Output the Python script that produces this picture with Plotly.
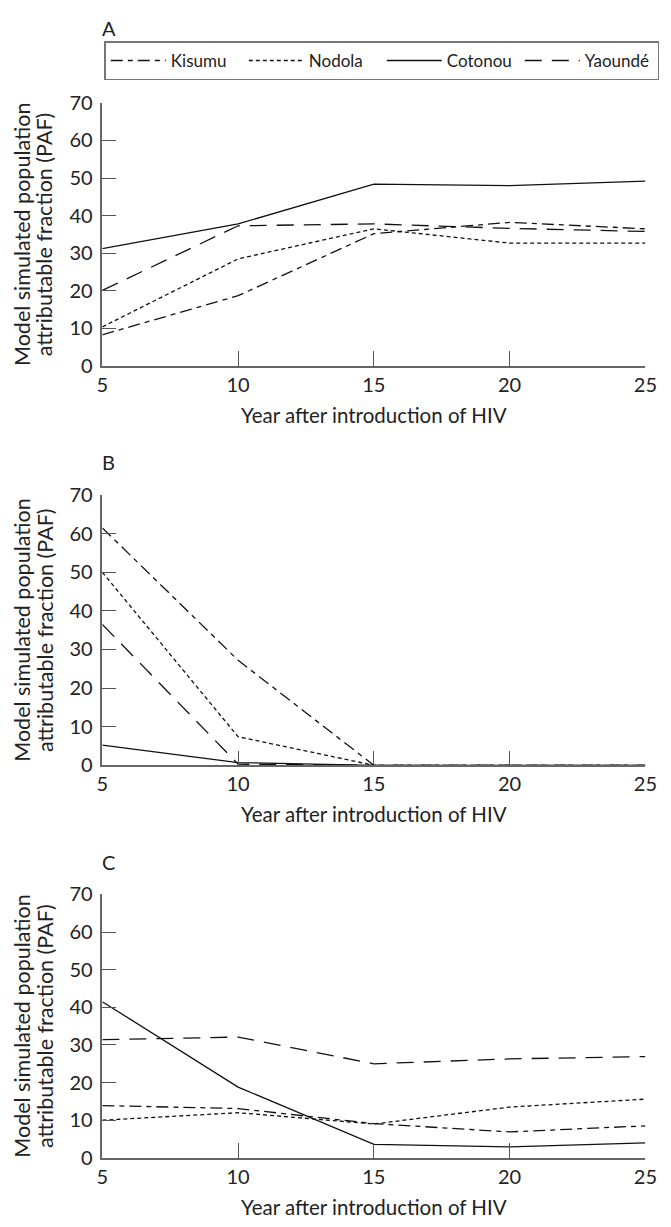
import plotly.graph_objects as go

years = [5, 10, 15, 20, 25]
cities = ["Kisumu", "Nodola", "Cotonou", "Yaoundé"]

# Panel A
kisumu_a = [8.3, 18.7, 35.2, 38.2, 36.5]
nodola_a = [10.4, 28.5, 36.5, 32.7, 32.7]
cotonou_a = [31.2, 37.8, 48.4, 48.0, 49.2]
yaounde_a = [20.1, 37.3, 37.8, 36.6, 35.8]

# Panel B
kisumu_b = [61.5, 27.2, 0, 0, 0]
nodola_b = [50.0, 7.4, 0, 0, 0]
cotonou_b = [5.2, 0.7, 0, 0, 0]
yaounde_b = [36.5, 0.3, 0, 0, 0]

# Panel C
kisumu_c = [13.9, 13.1, 9.1, 6.9, 8.5]
nodola_c = [10.0, 12.0, 9.0, 13.5, 15.6]
cotonou_c = [41.5, 18.8, 3.6, 2.9, 4.0]
yaounde_c = [31.4, 32.1, 25.0, 26.3, 26.9]

y_ticks = [0, 10, 20, 30, 40, 50, 60, 70]
x_ticks = [5, 10, 15, 20, 25]
panel_labels = ["A", "B", "C"]
x_title = "Year after introduction of HIV"
y_title_lines = ["Model simulated population", "attributable fraction (PAF)"]

dashes = {
    "Kisumu": "12px,5px,5px,5px",
    "Nodola": "4px,3px",
    "Cotonou": "solid",
    "Yaoundé": "17px,10px",
}

FONT = "Lato, 'Open Sans', sans-serif"
TXT = "#222222"
W, H = 671, 1227

panels = [
    [kisumu_a, nodola_a, cotonou_a, yaounde_a],
    [kisumu_b, nodola_b, cotonou_b, yaounde_b],
    [kisumu_c, nodola_c, cotonou_c, yaounde_c],
]

# pixel geometry of each plot area (top, bottom)
x_left, x_right = 99, 657
panel_px = [(91.7, 360.0), (491.7, 767.3), (899.0, 1167.7)]
label_px = [15, 458, 866]

fig = go.Figure()
for i, series in enumerate(panels):
    ax = "" if i == 0 else str(i + 1)
    for name, vals in zip(cities, series):
        fig.add_trace(go.Scatter(
            x=years, y=vals, mode="lines", name=name,
            line=dict(color="#111111", width=1.3, dash=dashes[name]),
            xaxis="x" + ax, yaxis="y" + ax,
            showlegend=(i == 0), hoverinfo="skip",
        ))

layout = dict(
    width=W, height=H,
    margin=dict(l=0, r=0, t=0, b=0),
    paper_bgcolor="white", plot_bgcolor="white",
    font=dict(family=FONT, size=20, color=TXT),
    legend=dict(
        orientation="h", x=101 / W, y=1 - 29 / H, xanchor="left", yanchor="top",
        bordercolor="#777777", borderwidth=1.5, itemwidth=55, entrywidth=68,
        font=dict(family=FONT, size=17, color=TXT),
        traceorder="normal",
    ),
    annotations=[],
)

for i, (top, bot) in enumerate(panel_px):
    ax = "" if i == 0 else str(i + 1)
    layout["xaxis" + ax] = dict(
        domain=[x_left / W, x_right / W], anchor="y" + ax,
        range=[5, 25], tickvals=x_ticks, ticks="inside", ticklen=15,
        tickcolor="#555555", tickwidth=1.3,
        showline=True, linecolor="#666666", linewidth=1.5,
        showgrid=False, zeroline=False, fixedrange=True,
        tickfont=dict(size=20), ticklabelstandoff=0,
        title=dict(text=x_title, font=dict(size=20.5), standoff=14),
    )
    layout["yaxis" + ax] = dict(
        domain=[1 - bot / H, 1 - top / H], anchor="x" + ax,
        range=[0, 70], tickvals=y_ticks, ticks="inside", ticklen=14,
        tickcolor="#555555", tickwidth=1.3,
        showline=True, linecolor="#666666", linewidth=1.5,
        showgrid=False, zeroline=False, fixedrange=True,
        tickfont=dict(size=20), ticklabelstandoff=4,
    )
    layout["annotations"].append(dict(
        text=panel_labels[i], xref="paper", yref="paper",
        x=97 / W, y=1 - label_px[i] / H, xanchor="left", yanchor="middle",
        showarrow=False, font=dict(family=FONT, size=20, color=TXT),
    ))
    ymid = 1 - (top + bot) / 2 / H
    for line_text, xc in zip(y_title_lines, [17, 40]):
        layout["annotations"].append(dict(
            text=line_text, xref="paper", yref="paper",
            x=xc / W, y=ymid, xanchor="center", yanchor="middle",
            textangle=-90, showarrow=False,
            font=dict(family=FONT, size=21.5, color=TXT),
        ))

fig.update_layout(**layout)
fig.write_html("out.html", config={"displayModeBar": False},
               post_script="document.body.style.margin='0';")
